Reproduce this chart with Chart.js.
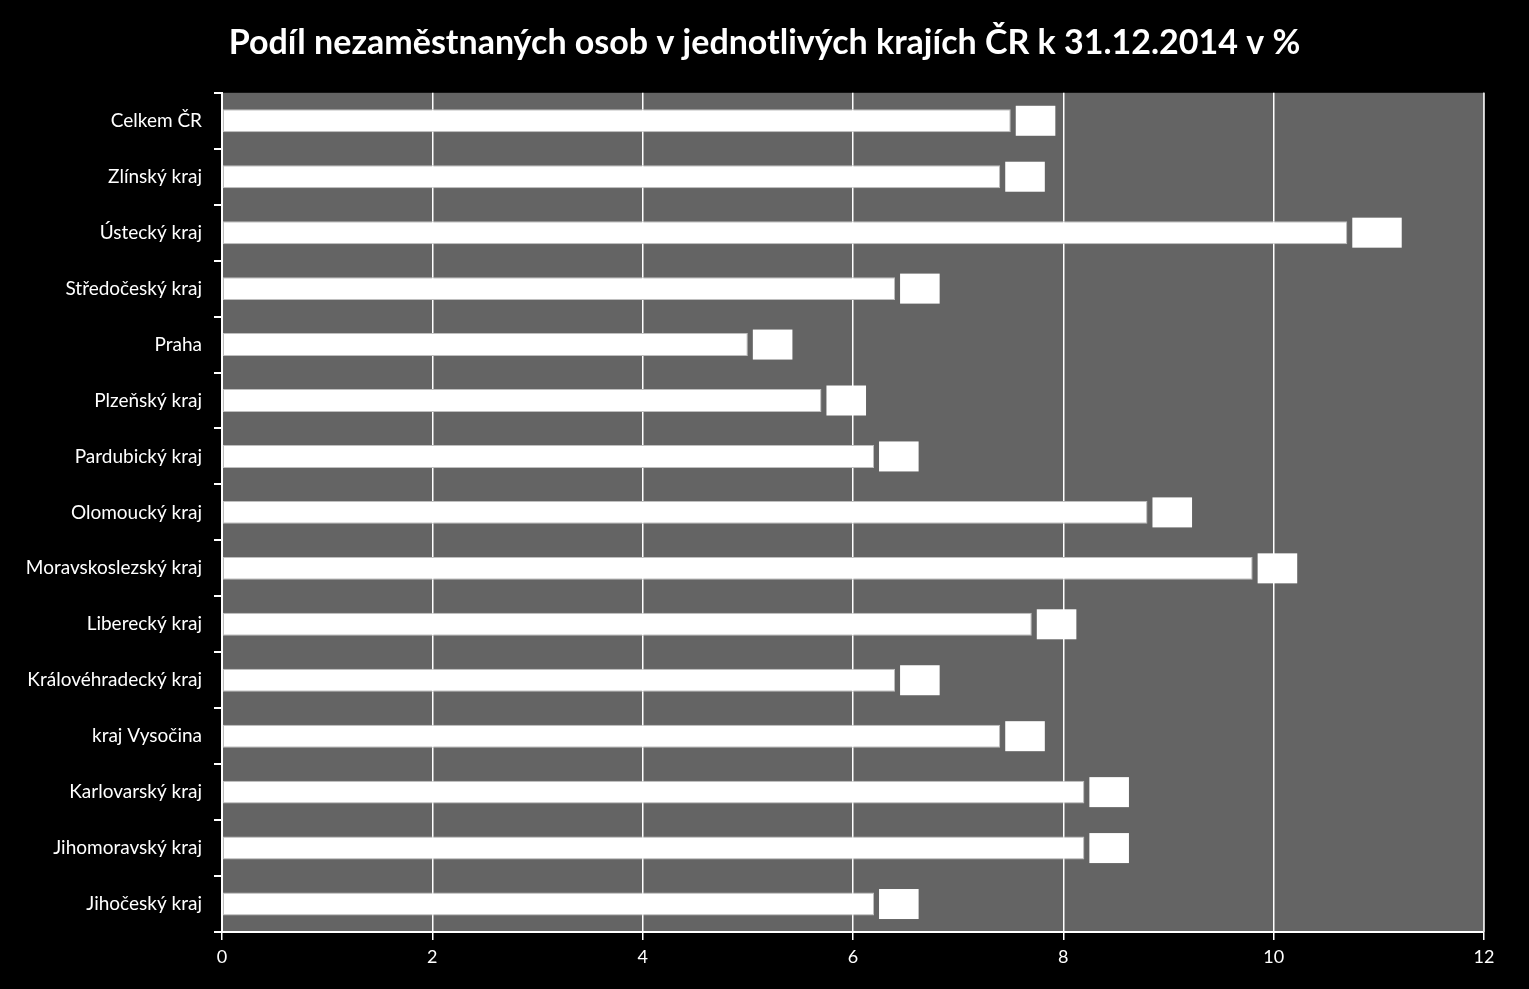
<!DOCTYPE html>
<html>
<head>
<meta charset="utf-8">
<script src="https://cdn.jsdelivr.net/npm/chart.js@4"></script>
<style>
  html, body { margin: 0; padding: 0; background: #000; }
  #wrap { width: 1529px; height: 989px; }
</style>
</head>
<body>
<div id="wrap"><canvas id="podilChart"></canvas></div>
<script>
const kraje = ['Celkem ČR', 'Zlínský kraj', 'Ústecký kraj', 'Středočeský kraj', 'Praha', 'Plzeňský kraj',
    'Pardubický kraj', 'Olomoucký kraj', 'Moravskoslezský kraj', 'Liberecký kraj', 'Královéhradecký kraj',
    'kraj Vysočina', 'Karlovarský kraj', 'Jihomoravský kraj', 'Jihočeský kraj'];
const podil = [7.5, 7.4, 10.7, 6.4, 5.0, 5.7, 6.2, 8.8, 9.8, 7.7, 6.4, 7.4, 8.2, 8.2, 6.2];
const osaX = [0, 2, 4, 6, 8, 10, 12];

const fontName = 'Lato, "Open Sans", sans-serif';

// grey plot area + light border on the right
const plochaPlugin = {
    id: 'plocha',
    beforeDraw(chart) {
        const {ctx, chartArea:a} = chart;
        ctx.save();
        ctx.fillStyle = '#646464';
        ctx.fillRect(a.left, a.top, a.right - a.left, a.bottom - a.top);
        ctx.restore();
    },
    afterDraw(chart) {
        const {ctx, chartArea:a} = chart;
        ctx.save();
        ctx.strokeStyle = '#d9d9d9';
        ctx.lineWidth = 1.5;
        ctx.beginPath();
        ctx.moveTo(a.right, a.top);
        ctx.lineTo(a.right, a.bottom);
        ctx.stroke();
        ctx.restore();
    }
};

// white data-label boxes next to each bar
const stitkyPlugin = {
    id: 'stitky',
    afterDatasetsDraw(chart) {
        const ctx = chart.ctx;
        const meta = chart.getDatasetMeta(0);
        ctx.save();
        ctx.font = '17px ' + fontName;
        meta.data.forEach((el, i) => {
            const txt = podil[i].toFixed(1).replace('.', ',');
            const w = ctx.measureText(txt).width + 16;
            const x = el.x + 5, y = el.y - 15;
            ctx.fillStyle = '#ffffff';
            ctx.fillRect(x, y, w, 30);
            ctx.textAlign = 'center';
            ctx.textBaseline = 'middle';
            ctx.fillText(txt, x + w / 2, el.y);
        });
        ctx.restore();
    }
};

const ctx = document.getElementById('podilChart').getContext('2d');
let chart = new Chart(ctx, {
    type: 'bar',
    data: {
        labels: kraje,
        datasets: [{
            label: 'Podíl nezaměstnaných osob',
            data: podil,
            backgroundColor: '#ffffff',
            borderColor: '#bfbfbf',
            borderWidth: 1,
            borderSkipped: false,
            categoryPercentage: 1,
            barPercentage: 0.41
        }]
    },
    options: {
        indexAxis: 'y',
        responsive: true,
        maintainAspectRatio: false,
        animation: false,
        layout: { padding: 0 },
        plugins: {
            legend: { display: false },
            tooltip: { enabled: false },
            title: {
                display: true,
                text: 'Podíl nezaměstnaných osob v jednotlivých krajích ČR k 31.12.2014 v %',
                color: '#ffffff',
                font: { family: fontName, size: 34, weight: 'bold' },
                padding: { top: 23, bottom: 29 }
            }
        },
        scales: {
            x: {
                min: 0, max: 12,
                afterBuildTicks: s => { s.ticks = osaX.map(v => ({ value: v })); },
                afterFit: s => { s.height = 57; },
                ticks: { color: '#ffffff', font: { family: fontName, size: 18 }, padding: 6 },
                grid: { color: '#ffffff', lineWidth: 1.5, tickLength: 8 },
                border: { color: '#ffffff', width: 2 }
            },
            y: {
                afterFit: s => { s.width = 222; },
                ticks: { color: '#ffffff', font: { family: fontName, size: 19 }, padding: 12 },
                grid: { color: '#ffffff', lineWidth: 2, drawOnChartArea: false, tickLength: 8, offset: true },
                border: { color: '#ffffff', width: 2 }
            },
            // empty right margin so the title stays centred on the whole canvas
            okraj: {
                type: 'linear',
                axis: 'y',
                position: 'right',
                display: true,
                afterFit: s => { s.width = 45; },
                ticks: { display: false },
                grid: { display: false },
                border: { display: false }
            }
        }
    },
    plugins: [plochaPlugin, stitkyPlugin]
});
</script>
</body>
</html>
